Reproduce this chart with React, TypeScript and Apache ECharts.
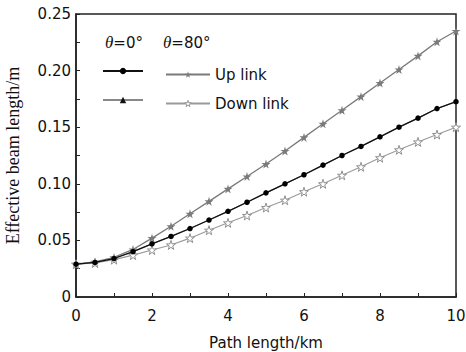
import React, { useEffect, useRef } from "react";
import * as echarts from "echarts";

const pathKm = [0, 0.5, 1, 1.5, 2, 2.5, 3, 3.5, 4, 4.5, 5, 5.5, 6, 6.5, 7, 7.5, 8, 8.5, 9, 9.5, 10];
const upLink0 = [0.029, 0.0305, 0.034, 0.04, 0.047, 0.0535, 0.0605, 0.068, 0.0757, 0.0837, 0.092, 0.1, 0.108, 0.1165, 0.125, 0.133, 0.1415, 0.15, 0.158, 0.1665, 0.1725];
const downLink0 = [0.029, 0.0305, 0.034, 0.04, 0.047, 0.0535, 0.0605, 0.068, 0.0757, 0.0837, 0.092, 0.1, 0.108, 0.1165, 0.125, 0.133, 0.1415, 0.15, 0.158, 0.1665, 0.1725];
const upLink80 = [0.029, 0.031, 0.035, 0.042, 0.052, 0.0625, 0.0735, 0.0845, 0.0955, 0.1065, 0.1175, 0.129, 0.141, 0.153, 0.165, 0.177, 0.189, 0.201, 0.213, 0.2255, 0.235];
const downLink80 = [0.029, 0.03, 0.033, 0.037, 0.0415, 0.046, 0.052, 0.059, 0.0655, 0.072, 0.079, 0.0855, 0.093, 0.1, 0.1075, 0.115, 0.123, 0.13, 0.137, 0.1435, 0.15];

const seriesNames = ["Up link θ=0°", "Down link θ=0°", "Up link θ=80°", "Down link θ=80°"];
const legendLabels = ["", "", "Up link", "Down link"];

const STAR = "path://M50,0 L61,35 L98,35 L68,57 L79,91 L50,70 L21,91 L32,57 L2,35 L39,35 Z";

const pair = (vals: number[]) => pathKm.map((x, i) => [x, vals[i]]);

export default function App() {
  const ref = useRef<HTMLDivElement>(null);
  useEffect(() => {
    if (!ref.current) return;
    const chart = echarts.init(ref.current, null, { renderer: "svg" });
    const sans = "DejaVu Sans";
    const legendPos = [
      { left: 102, top: 67, w: 40 },
      { left: 102, top: 96, w: 40 },
      { left: 165, top: 67, w: 44 },
      { left: 165, top: 96, w: 44 },
    ];
    const legendItemStyles: any[] = [
      {},
      {},
      {},
      { color: "#fff", borderColor: "#999", borderWidth: 1 },
    ];
    chart.setOption({
      animation: false,
      backgroundColor: "#fff",
      grid: { left: 76, right: 10, top: 14, bottom: 55, show: true, borderColor: "#222", borderWidth: 1.5, outerBoundsMode: "none" },
      xAxis: {
        type: "value",
        min: 0,
        max: 10,
        interval: 2,
        name: "Path length/km",
        nameLocation: "middle",
        nameGap: 38,
        nameTextStyle: { fontFamily: sans, fontSize: 15, color: "#111" },
        axisLine: { show: true, lineStyle: { color: "#222", width: 1.5 } },
        axisTick: { show: true, inside: true, length: 4, lineStyle: { color: "#222" } },
        minorTick: { show: true, splitNumber: 2, length: 4, lineStyle: { color: "#222" } },
        axisLabel: { fontFamily: sans, fontSize: 15, color: "#111", margin: 11 },
        splitLine: { show: false },
      },
      yAxis: {
        type: "value",
        min: 0,
        max: 0.25,
        interval: 0.05,
        name: "Effective beam length/m",
        nameLocation: "middle",
        nameGap: 54,
        nameTextStyle: { fontFamily: "Liberation Serif", fontSize: 18, color: "#111" },
        axisLine: { show: true, lineStyle: { color: "#222", width: 1.5 } },
        axisTick: { show: true, inside: true, length: 4, lineStyle: { color: "#222" } },
        minorTick: { show: true, splitNumber: 2, length: 4, lineStyle: { color: "#222" } },
        axisLabel: {
          fontFamily: sans,
          fontSize: 15,
          color: "#111",
          margin: 5,
          formatter: (v: number) => (v === 0 ? "0" : v.toFixed(2)),
        },
        splitLine: { show: false },
      },
      legend: seriesNames.map((n, i) => ({
        data: [n],
        left: legendPos[i].left,
        top: legendPos[i].top,
        itemWidth: legendPos[i].w,
        itemHeight: 8,
        padding: 0,
        selectedMode: false,
        itemStyle: legendItemStyles[i],
        formatter: () => legendLabels[i],
        textStyle: { fontFamily: sans, fontSize: 15, color: "#111" },
      })),
      graphic: [
        {
          type: "text",
          left: 105,
          top: 34,
          style: {
            text: "{i|θ}{n|=0°}      {i|θ}{n|=80°}",
            rich: {
              i: { fontFamily: "Liberation Serif", fontStyle: "italic", fontSize: 17, fill: "#111" },
              n: { fontFamily: sans, fontSize: 15, fill: "#111" },
            },
          },
        },
      ],
      series: [
        {
          name: seriesNames[1],
          type: "line",
          data: pair(downLink0),
          showSymbol: false,
          symbol: "triangle",
          symbolSize: 7,
          itemStyle: { color: "#111" },
          lineStyle: { color: "#888", width: 1.2 },
          z: 1,
        },
        {
          name: seriesNames[0],
          type: "line",
          data: pair(upLink0),
          symbol: "circle",
          symbolSize: 5.5,
          itemStyle: { color: "#000" },
          lineStyle: { color: "#111", width: 1.3 },
          z: 3,
        },
        {
          name: seriesNames[2],
          type: "line",
          data: pair(upLink80),
          symbol: STAR,
          symbolSize: 9,
          itemStyle: { color: "#7a7a7a" },
          lineStyle: { color: "#7a7a7a", width: 1.3 },
          z: 2,
        },
        {
          name: seriesNames[3],
          type: "line",
          data: pair(downLink80),
          symbol: STAR,
          symbolSize: 9,
          itemStyle: { color: "#fff", borderColor: "#909090", borderWidth: 1 },
          lineStyle: { color: "#999", width: 1.1 },
          z: 2,
        },
      ],
    });
    return () => chart.dispose();
  }, []);
  return <div ref={ref} style={{ position: "fixed", left: 0, top: 0, width: 466, height: 352 }} />;
}
